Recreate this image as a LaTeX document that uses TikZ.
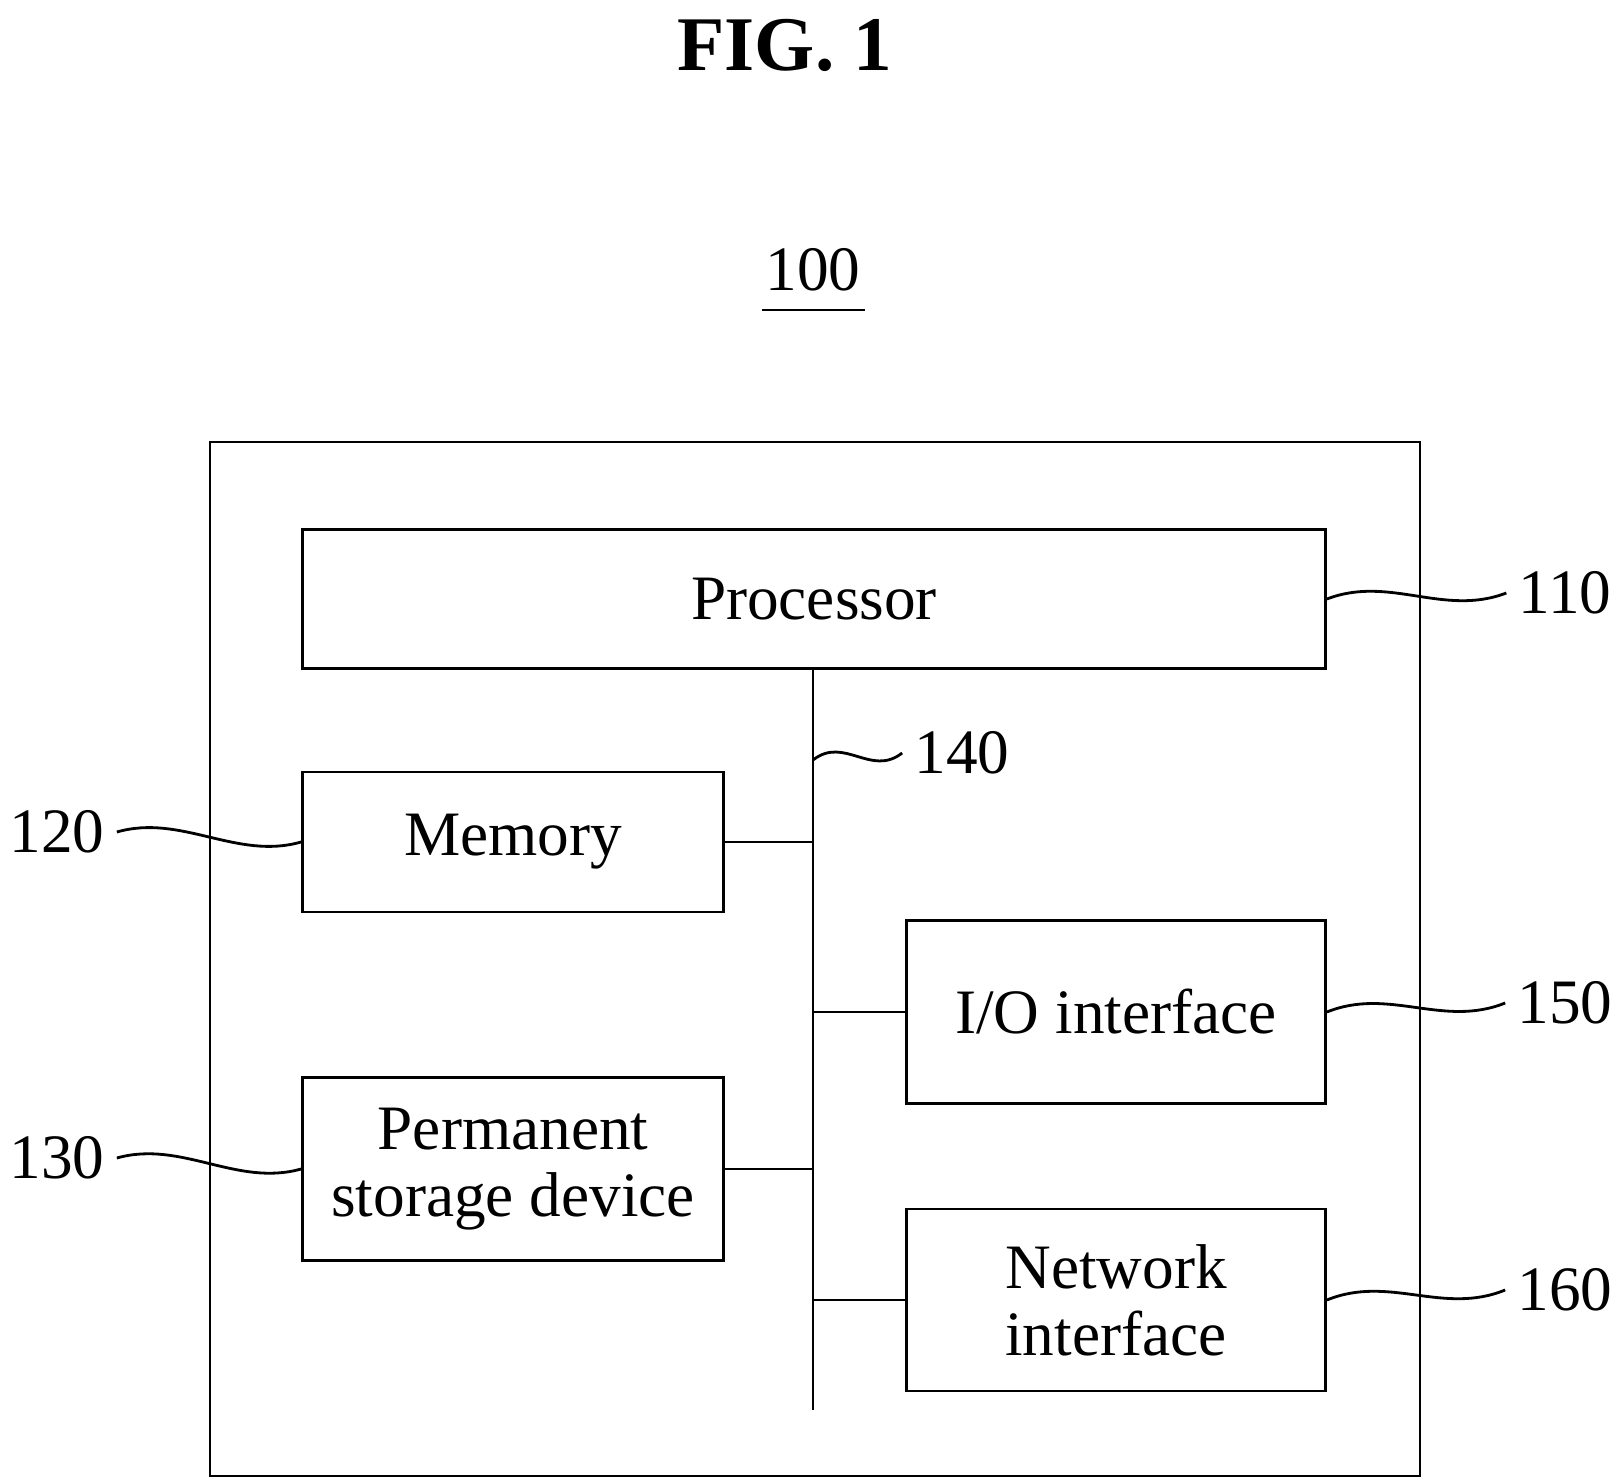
\documentclass[tikz,border=0pt]{standalone}
\usepackage{fontspec}
\setmainfont{Liberation Serif}
\usetikzlibrary{calc}
\begin{document}
\begin{tikzpicture}[
  blk/.style={draw, thick, inner sep=0pt, font=\fontsize{18}{21}\selectfont, align=center},
  lbl/.style={font=\fontsize{18}{21}\selectfont},
  wave/.style={thick}
]
\useasboundingbox (0,0) rectangle (16.17,-14.82);
\node[font=\bfseries\fontsize{22}{26}\selectfont] (fig) at (7.85,-0.45) {FIG. 1};
\node[lbl] (sys) at (8.13,-2.70) {100};
\draw[thick] (7.62,-3.10) -- (8.65,-3.10);

\draw[thick] (2.10,-4.42) rectangle (14.20,-14.76);
\node[blk, minimum width=10.23cm, minimum height=1.39cm] (cpu) at (8.14,-5.99) {Processor};
\node[blk, minimum width=4.21cm, minimum height=1.40cm] (mem) at (5.13,-8.42) {Memory};
\node[blk, minimum width=4.21cm, minimum height=1.83cm] (perm) at (5.13,-11.69) {Permanent\\[-2pt]storage device};
\node[blk, minimum width=4.19cm, minimum height=1.83cm] (io) at (11.16,-10.12) {I/O interface};
\node[blk, minimum width=4.19cm, minimum height=1.82cm] (net) at (11.16,-13.00) {Network\\[-2pt]interface};

% bus
\coordinate (bustop) at (8.13,-6.69);
\coordinate (busbot) at (8.13,-14.10);
\draw[thick] (bustop) -- (busbot);
\draw[thick] (mem.east) -- (mem.east -| bustop);
\draw[thick] (perm.east) -- (perm.east -| bustop);
\draw[thick] (io.west) -- (io.west -| bustop);
\draw[thick] (net.west) -- (net.west -| bustop);

% reference numerals
\node[lbl] (n110) at (15.65,-5.93) {110};
\node[lbl] (n120) at (0.57,-8.32) {120};
\node[lbl] (n130) at (0.57,-11.58) {130};
\node[lbl] (n140) at (9.62,-7.53) {140};
\node[lbl] (n150) at (15.65,-10.03) {150};
\node[lbl] (n160) at (15.65,-12.90) {160};

\coordinate (b140) at (8.13,-7.60);
\foreach \a/\b in {cpu.east/n110.west, n120.east/mem.west, n130.east/perm.west,
                   b140/n140.west, io.east/n150.west, net.east/n160.west}
  \draw[wave] (\a) .. controls ($(\a)!0.35!(\b)+(0,0.22)$) and ($(\a)!0.65!(\b)-(0,0.22)$) .. (\b);
\end{tikzpicture}
\end{document}
